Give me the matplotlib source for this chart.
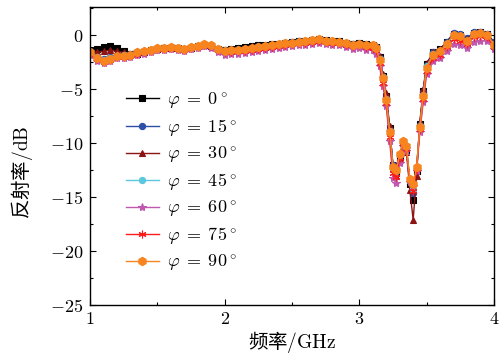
import matplotlib
matplotlib.use("Agg")
import matplotlib.pyplot as plt
from matplotlib.ticker import MultipleLocator, FuncFormatter

plt.rcParams['font.family'] = ['Noto Sans CJK SC', 'DejaVu Sans']
plt.rcParams['mathtext.fontset'] = 'cm'

freq = [1.00, 1.05, 1.10, 1.15, 1.20, 1.25, 1.30, 1.35, 1.40, 1.45, 1.50, 1.55, 1.60, 1.65, 1.70,
        1.75, 1.80, 1.85, 1.90, 1.95, 2.00, 2.05, 2.10, 2.15, 2.20, 2.25, 2.30, 2.35, 2.40, 2.45,
        2.50, 2.55, 2.60, 2.65, 2.70, 2.75, 2.80, 2.85, 2.90, 2.95, 3.00, 3.05, 3.10,
        3.125, 3.15, 3.175, 3.20, 3.225, 3.25, 3.275, 3.30, 3.325, 3.35, 3.375, 3.40, 3.425,
        3.45, 3.475, 3.50,
        3.55, 3.60, 3.65, 3.70, 3.75, 3.80, 3.85, 3.90, 3.95, 4.00]

r_0 = [-1.4, -1.3, -1.1, -1.0, -1.2, -1.5, -1.7, -1.7, -1.6, -1.4, -1.25, -1.2, -1.15, -1.2, -1.3,
       -1.15, -1.05, -0.9, -1.0, -1.25, -1.35, -1.3, -1.2, -1.1, -1.0, -0.95, -0.9, -0.85, -0.8, -0.7,
       -0.65, -0.55, -0.5, -0.45, -0.35, -0.45, -0.5, -0.55, -0.7, -0.8, -0.75, -0.85, -0.9,
       -1.1, -2.0, -3.8, -5.6, -8.6, -12.0, -12.8, -11.3, -9.9, -10.6, -13.8, -15.3, -12.6, -8.2, -5.2, -2.7,
       -1.6, -1.3, -0.6, 0.1, 0.0, -0.4, 0.2, 0.3, 0.1, -0.7]
r_15 = [-1.5, -1.9, -2.2, -2.0, -1.8, -1.8, -1.75, -1.6, -1.5, -1.35, -1.2, -1.15, -1.1, -1.2, -1.25,
        -1.1, -1.0, -0.9, -0.95, -1.3, -1.4, -1.35, -1.3, -1.25, -1.15, -1.05, -1.0, -0.9, -0.8, -0.7,
        -0.65, -0.55, -0.5, -0.45, -0.4, -0.5, -0.5, -0.6, -0.7, -0.85, -0.8, -0.9, -0.9,
        -1.1, -2.1, -3.9, -5.8, -8.8, -12.0, -12.4, -11.1, -9.8, -10.4, -13.5, -14.6, -12.3, -8.3, -5.3, -2.8,
        -1.6, -1.4, -0.6, 0.2, 0.1, -0.3, 0.3, 0.3, 0.1, -0.6]
r_30 = [-1.5, -1.6, -1.5, -1.4, -1.5, -1.6, -1.7, -1.65, -1.55, -1.4, -1.25, -1.2, -1.15, -1.2, -1.3,
        -1.15, -1.05, -0.9, -1.0, -1.3, -1.4, -1.35, -1.25, -1.15, -1.05, -1.0, -0.95, -0.9, -0.8, -0.7,
        -0.65, -0.55, -0.5, -0.45, -0.4, -0.5, -0.5, -0.55, -0.7, -0.85, -0.75, -0.9, -0.9,
        -1.0, -1.9, -3.6, -5.4, -8.4, -12.3, -13.0, -11.5, -10.0, -10.8, -14.3, -17.1, -13.0, -8.0, -5.0, -2.6,
        -1.6, -1.3, -0.7, 0.1, -0.1, -0.4, 0.2, 0.2, 0.1, -0.7]
r_45 = [-1.6, -2.0, -2.3, -2.1, -1.9, -1.85, -1.8, -1.6, -1.5, -1.35, -1.2, -1.15, -1.1, -1.2, -1.25,
        -1.1, -1.0, -0.9, -0.95, -1.3, -1.45, -1.4, -1.35, -1.3, -1.2, -1.1, -1.05, -0.95, -0.85, -0.75,
        -0.7, -0.6, -0.55, -0.45, -0.4, -0.5, -0.55, -0.6, -0.75, -0.9, -0.8, -0.95, -0.95,
        -1.2, -2.2, -3.9, -5.9, -8.9, -12.3, -12.6, -11.1, -9.8, -10.4, -13.5, -14.2, -12.3, -8.4, -5.5, -2.9,
        -1.7, -1.5, -0.8, 0.0, -0.1, -0.5, 0.1, 0.2, 0.0, -0.8]
r_60 = [-1.8, -2.4, -2.6, -2.4, -2.1, -2.1, -2.0, -1.8, -1.7, -1.55, -1.4, -1.35, -1.3, -1.4, -1.45,
        -1.3, -1.2, -1.05, -1.15, -1.55, -1.8, -1.75, -1.7, -1.65, -1.55, -1.45, -1.4, -1.3, -1.2, -1.1,
        -1.05, -0.95, -0.9, -0.8, -0.75, -0.85, -0.9, -0.95, -1.1, -1.25, -1.15, -1.35, -1.4,
        -1.7, -2.9, -4.7, -6.6, -9.8, -13.2, -13.7, -11.8, -10.3, -10.7, -13.6, -14.0, -12.6, -9.0, -6.2, -3.6,
        -2.4, -2.1, -1.5, -0.8, -0.9, -1.2, -0.6, -0.5, -0.5, -1.3]
r_75 = [-1.7, -2.2, -2.5, -2.3, -2.0, -2.0, -1.9, -1.7, -1.6, -1.45, -1.3, -1.25, -1.2, -1.3, -1.35,
        -1.2, -1.1, -0.95, -1.05, -1.4, -1.6, -1.55, -1.5, -1.45, -1.35, -1.25, -1.2, -1.1, -1.0, -0.9,
        -0.85, -0.75, -0.7, -0.6, -0.55, -0.65, -0.7, -0.75, -0.9, -1.05, -0.95, -1.1, -1.15,
        -1.4, -2.6, -4.4, -6.3, -9.4, -12.8, -13.1, -11.4, -10.0, -10.5, -13.4, -14.4, -12.4, -8.7, -5.9, -3.3,
        -2.1, -1.8, -1.1, -0.4, -0.5, -0.8, -0.2, -0.1, -0.2, -1.1]
r_90 = [-1.6, -2.1, -2.4, -2.2, -1.9, -1.9, -1.8, -1.6, -1.5, -1.35, -1.2, -1.15, -1.1, -1.2, -1.25,
        -1.1, -1.0, -0.85, -0.95, -1.3, -1.45, -1.4, -1.35, -1.3, -1.2, -1.1, -1.05, -0.95, -0.85, -0.75,
        -0.7, -0.6, -0.55, -0.45, -0.4, -0.5, -0.55, -0.6, -0.75, -0.9, -0.8, -0.95, -0.95,
        -1.2, -2.3, -4.0, -6.0, -9.0, -12.2, -12.5, -11.0, -9.8, -10.3, -13.3, -13.8, -12.2, -8.5, -5.6, -3.0,
        -1.8, -1.5, -0.8, 0.0, -0.1, -0.5, 0.1, 0.2, 0.0, -0.9]

angles = [0, 15, 30, 45, 60, 75, 90]
labels = [r'$\varphi\;=\;%d^\circ$' % a for a in angles]
series = [r_0, r_15, r_30, r_45, r_60, r_75, r_90]
colors = ['#000000', '#2E4FA8', '#8B1414', '#5CC8DE', '#C058B0', '#FF1A1A', '#F7841E']
markers = ['s', 'o', '^', 'o', '*', (6, 2, 0), 'h']
msizes = [4.5, 4.5, 5, 4.5, 6, 5.5, 6]

fig = plt.figure(figsize=(5.03, 3.54), dpi=100)
ax = fig.add_axes([0.179, 0.138, 0.803, 0.842])

for y, c, m, ms, lab in zip(series, colors, markers, msizes, labels):
    ax.plot(freq, y, color=c, marker=m, markersize=ms, linewidth=1.0,
            markeredgewidth=0.8, label=lab)

ax.set_xlim(1, 4)
ax.set_ylim(-25, 2.6)
ax.xaxis.set_major_locator(MultipleLocator(1))
ax.xaxis.set_minor_locator(MultipleLocator(0.5))
ax.yaxis.set_major_locator(MultipleLocator(5))
ax.yaxis.set_minor_locator(MultipleLocator(2.5))
fmt = FuncFormatter(lambda v, p: r'$%d$' % round(v))
ax.xaxis.set_major_formatter(fmt)
ax.yaxis.set_major_formatter(fmt)
ax.tick_params(which='both', direction='in', top=True, right=True, labelsize=13)
ax.tick_params(axis='y', pad=5)
ax.tick_params(which='major', length=4, width=0.8)
ax.tick_params(which='minor', length=2.5, width=0.8)
for s in ax.spines.values():
    s.set_linewidth(1.0)

ax.set_xlabel(r'频率$/\mathrm{GHz}$', fontsize=14, labelpad=1)
ax.set_ylabel(r'反射率$/\mathrm{dB}$', fontsize=14)
ax.yaxis.set_label_coords(-0.136, 0.446)

ax.legend(loc='upper left', bbox_to_anchor=(0.07, 0.745), frameon=False, fontsize=13,
          handlelength=1.85, handletextpad=0.45, labelspacing=0.35, borderaxespad=0)

fig.savefig('out.png', dpi=100)
